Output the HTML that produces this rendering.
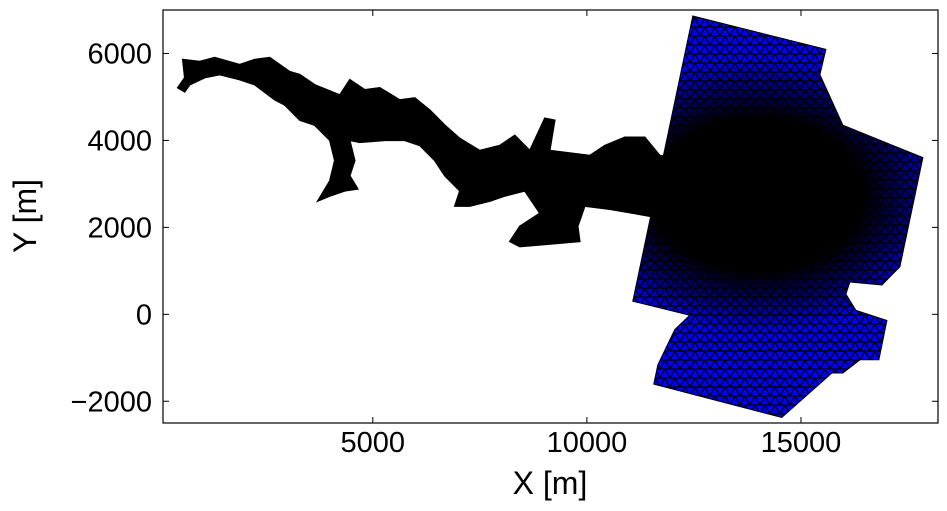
<!DOCTYPE html>
<html><head><meta charset="utf-8"><style>
html,body{margin:0;padding:0;background:#fff;}
svg{display:block;font-family:"Liberation Sans",sans-serif;}
</style></head><body>
<svg id="chart" width="947" height="511" viewBox="0 0 947 511">
<defs>
 <pattern id="mesh" width="10" height="9" patternUnits="userSpaceOnUse">
  <rect width="10" height="9" fill="#0000ff"/>
  <path d="M0,9 L5,0 L10,9 M0,0 L10,0 M0,9 L10,9" stroke="#000" stroke-width="1.3" fill="none"/>
 </pattern>
 <radialGradient id="dense" cx="0.5" cy="0.5" r="0.5">
  <stop offset="0" stop-color="#000" stop-opacity="1"/>
  <stop offset="0.55" stop-color="#000" stop-opacity="1"/>
  <stop offset="0.8" stop-color="#000" stop-opacity="0.5"/>
  <stop offset="1" stop-color="#000" stop-opacity="0"/>
 </radialGradient>
 <clipPath id="plotclip"><rect x="163" y="10" width="775" height="413"/></clipPath>
 <clipPath id="blueclip"><polygon id="blueclipPoly"/></clipPath>
</defs>
<g id="marks" clip-path="url(#plotclip)"></g>
<rect x="163" y="10" width="775" height="413" fill="none" stroke="#000" stroke-width="1.2"/>
<g id="axes"></g>
<text x="550" y="494" font-size="32" text-anchor="middle">X [m]</text>
<text x="36" y="216" font-size="32" text-anchor="middle" transform="rotate(-90 36 216)">Y [m]</text>
</svg>
<script>
const xTicks=[5000,10000,15000];
const yTicks=[-2000,0,2000,4000,6000];
const oceanX=[12474,15581,15441,15978,17847,17310,16889,16142,16048,16282,17006,16819,16375,15978,15721,14553,11563,11657,12054,12404,11073];
const oceanY=[6862,6094,5513,4350,3605,1093,675,744,465,93,-140,-1047,-1047,-1349,-1349,-2373,-1605,-1163,-349,-23,302];
const riverX=[561,958,1308,1892,2243,2593,3060,3294,3644,4228,4462,4812,5163,5630,5980,6331,6681,7031,7499,7966,8316,8667,9017,9251,9134,10068,10418,10886,11353,11703,12474,13105,13105,11470,10535,9951,9788,9835,9017,8433,8199,8433,8900,8550,8083,7732,7265,6915,7031,6681,6447,6097,5747,5279,4695,4462,4579,4462,4649,4345,3995,3714,3995,4111,3995,3644,3294,2943,2710,2243,1892,1425,1075,724,607,444,607];
const riverY=[5862,5815,5908,5745,5862,5908,5582,5513,5280,5047,5396,5164,5210,4931,4978,4699,4350,4047,3768,3884,4117,3768,4512,4466,3768,3652,3884,4071,4071,3652,3536,3303,2024,2256,2419,2489,2024,1675,1605,1558,1675,2024,2326,2838,2721,2605,2489,2489,2838,3187,3536,3884,4001,4001,3954,4001,3536,3187,2884,2838,2721,2605,3070,3536,4001,4350,4466,4815,4931,5280,5396,5513,5443,5280,5117,5210,5443];
const denseCenter=[14000,2750];
const denseRadius=[4500,3200];
const X0=100,X1=18200,Y0=-2500,Y1=7000;
const xs=v=>163+(v-X0)/(X1-X0)*775;
const ys=v=>423-(v-Y0)/(Y1-Y0)*413;
const NS='http://www.w3.org/2000/svg';
const marks=document.getElementById('marks');
const axes=document.getElementById('axes');
function pts(ax,ay){return ax.map((v,i)=>xs(v).toFixed(1)+','+ys(ay[i]).toFixed(1)).join(' ');}
document.getElementById('blueclipPoly').setAttribute('points',pts(oceanX,oceanY));
const ocean=document.createElementNS(NS,'polygon');
ocean.setAttribute('points',pts(oceanX,oceanY));
ocean.setAttribute('fill','url(#mesh)');
ocean.setAttribute('stroke','#000');


marks.appendChild(ocean);
const dense=document.createElementNS(NS,'ellipse');
dense.setAttribute('cx',xs(denseCenter[0]));
dense.setAttribute('cy',ys(denseCenter[1]));
dense.setAttribute('rx',denseRadius[0]/(X1-X0)*775);
dense.setAttribute('ry',denseRadius[1]/(Y1-Y0)*413);
dense.setAttribute('fill','url(#dense)');
dense.setAttribute('clip-path','url(#blueclip)');


marks.appendChild(dense);
const river=document.createElementNS(NS,'polygon');
river.setAttribute('points',pts(riverX,riverY));
river.setAttribute('fill','#000');
river.setAttribute('stroke','#000');
river.setAttribute('stroke-width','1.5');


marks.appendChild(river);
xTicks.forEach(t=>{
 const x=xs(t);
 [[423,417],[10,16]].forEach(p=>{
  const l=document.createElementNS(NS,'line');
  l.setAttribute('x1',x);l.setAttribute('x2',x);l.setAttribute('y1',p[0]);l.setAttribute('y2',p[1]);
  l.setAttribute('stroke','#000');
  
  
  axes.appendChild(l);
 });
 const tx=document.createElementNS(NS,'text');
 tx.setAttribute('x',x);tx.setAttribute('y',452);tx.setAttribute('font-size','29');tx.setAttribute('text-anchor','middle');
 tx.textContent=t;
 
 
 axes.appendChild(tx);
});
yTicks.forEach(t=>{
 const y=ys(t);
 [[163,169],[938,932]].forEach(p=>{
  const l=document.createElementNS(NS,'line');
  l.setAttribute('x1',p[0]);l.setAttribute('x2',p[1]);l.setAttribute('y1',y);l.setAttribute('y2',y);
  l.setAttribute('stroke','#000');
  
  
  axes.appendChild(l);
 });
 const tx=document.createElementNS(NS,'text');
 tx.setAttribute('x',152);tx.setAttribute('y',y+10);tx.setAttribute('font-size','29');tx.setAttribute('text-anchor','end');
 tx.textContent=t<0?'\u2212'+Math.abs(t):String(t);
 
 
 axes.appendChild(tx);
});
</script>
</body></html>
